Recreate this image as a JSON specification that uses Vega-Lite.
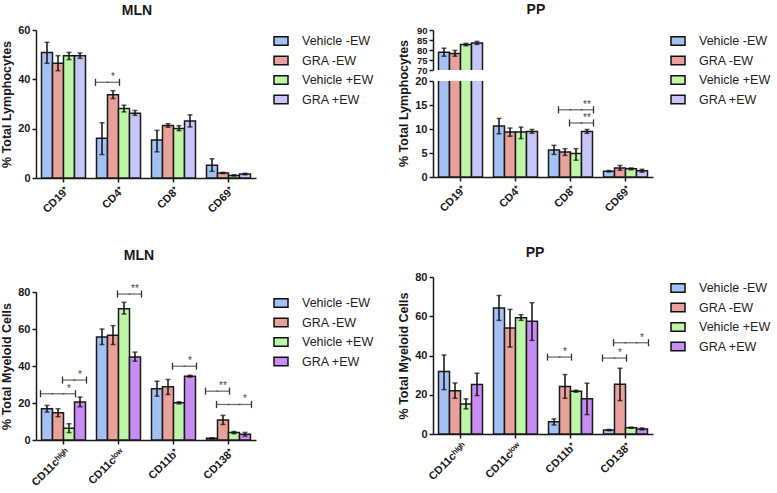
{
"padding": {"left": 0, "top": 3, "right": 0, "bottom": 0},
"datasets": {
"bars": [
{"p":"TL","m":"CD19⁺","c":"Vehicle -EW","v":50.9,"lo":46.5,"hi":55.0},
{"p":"TL","m":"CD19⁺","c":"GRA -EW","v":46.5,"lo":43.5,"hi":49.6},
{"p":"TL","m":"CD19⁺","c":"Vehicle +EW","v":49.6,"lo":48.0,"hi":50.9},
{"p":"TL","m":"CD19⁺","c":"GRA +EW","v":49.6,"lo":48.5,"hi":50.7},
{"p":"TL","m":"CD4⁺","c":"Vehicle -EW","v":16.1,"lo":9.5,"hi":22.4},
{"p":"TL","m":"CD4⁺","c":"GRA -EW","v":33.7,"lo":32.2,"hi":35.4},
{"p":"TL","m":"CD4⁺","c":"Vehicle +EW","v":28.2,"lo":26.8,"hi":29.5},
{"p":"TL","m":"CD4⁺","c":"GRA +EW","v":26.3,"lo":25.4,"hi":27.4},
{"p":"TL","m":"CD8⁺","c":"Vehicle -EW","v":15.4,"lo":10.6,"hi":19.3},
{"p":"TL","m":"CD8⁺","c":"GRA -EW","v":21.3,"lo":20.6,"hi":22.0},
{"p":"TL","m":"CD8⁺","c":"Vehicle +EW","v":20.1,"lo":19.2,"hi":21.2},
{"p":"TL","m":"CD8⁺","c":"GRA +EW","v":23.1,"lo":20.7,"hi":25.6},
{"p":"TL","m":"CD69⁺","c":"Vehicle -EW","v":5.2,"lo":2.7,"hi":7.8},
{"p":"TL","m":"CD69⁺","c":"GRA -EW","v":2.0,"lo":1.8,"hi":2.3},
{"p":"TL","m":"CD69⁺","c":"Vehicle +EW","v":1.0,"lo":0.8,"hi":1.3},
{"p":"TL","m":"CD69⁺","c":"GRA +EW","v":1.6,"lo":1.3,"hi":1.9},
{"p":"TR","m":"CD19⁺","c":"Vehicle -EW","v":78.9,"lo":76.9,"hi":80.9},
{"p":"TR","m":"CD19⁺","c":"GRA -EW","v":78.3,"lo":76.9,"hi":79.8},
{"p":"TR","m":"CD19⁺","c":"Vehicle +EW","v":82.7,"lo":82.1,"hi":83.3},
{"p":"TR","m":"CD19⁺","c":"GRA +EW","v":83.5,"lo":82.8,"hi":84.3},
{"p":"TR","m":"CD4⁺","c":"Vehicle -EW","v":10.6,"lo":9.0,"hi":12.2},
{"p":"TR","m":"CD4⁺","c":"GRA -EW","v":9.4,"lo":8.5,"hi":10.2},
{"p":"TR","m":"CD4⁺","c":"Vehicle +EW","v":9.4,"lo":8.0,"hi":10.4},
{"p":"TR","m":"CD4⁺","c":"GRA +EW","v":9.5,"lo":9.1,"hi":9.9},
{"p":"TR","m":"CD8⁺","c":"Vehicle -EW","v":5.6,"lo":4.7,"hi":6.6},
{"p":"TR","m":"CD8⁺","c":"GRA -EW","v":5.2,"lo":4.5,"hi":5.9},
{"p":"TR","m":"CD8⁺","c":"Vehicle +EW","v":4.9,"lo":3.5,"hi":5.9},
{"p":"TR","m":"CD8⁺","c":"GRA +EW","v":9.5,"lo":9.1,"hi":9.9},
{"p":"TR","m":"CD69⁺","c":"Vehicle -EW","v":1.2,"lo":1.05,"hi":1.35},
{"p":"TR","m":"CD69⁺","c":"GRA -EW","v":1.9,"lo":1.4,"hi":2.4},
{"p":"TR","m":"CD69⁺","c":"Vehicle +EW","v":1.7,"lo":1.5,"hi":1.9},
{"p":"TR","m":"CD69⁺","c":"GRA +EW","v":1.3,"lo":1.0,"hi":1.6},
{"p":"BL","m":"CD11cʰⁱᵍʰ","c":"Vehicle -EW","v":16.9,"lo":15.1,"hi":18.7},
{"p":"BL","m":"CD11cʰⁱᵍʰ","c":"GRA -EW","v":14.7,"lo":12.6,"hi":16.9},
{"p":"BL","m":"CD11cʰⁱᵍʰ","c":"Vehicle +EW","v":6.3,"lo":4.0,"hi":8.8},
{"p":"BL","m":"CD11cʰⁱᵍʰ","c":"GRA +EW","v":20.5,"lo":18.0,"hi":23.2},
{"p":"BL","m":"CD11cˡᵒʷ","c":"Vehicle -EW","v":55.7,"lo":51.6,"hi":60.0},
{"p":"BL","m":"CD11cˡᵒʷ","c":"GRA -EW","v":56.6,"lo":51.6,"hi":61.8},
{"p":"BL","m":"CD11cˡᵒʷ","c":"Vehicle +EW","v":71.0,"lo":68.1,"hi":74.4},
{"p":"BL","m":"CD11cˡᵒʷ","c":"GRA +EW","v":44.9,"lo":42.6,"hi":47.5},
{"p":"BL","m":"CD11b⁺","c":"Vehicle -EW","v":27.7,"lo":23.7,"hi":31.8},
{"p":"BL","m":"CD11b⁺","c":"GRA -EW","v":28.8,"lo":24.6,"hi":32.7},
{"p":"BL","m":"CD11b⁺","c":"Vehicle +EW","v":20.1,"lo":19.5,"hi":20.7},
{"p":"BL","m":"CD11b⁺","c":"GRA +EW","v":34.5,"lo":34.0,"hi":35.0},
{"p":"BL","m":"CD138⁺","c":"Vehicle -EW","v":0.9,"lo":0.6,"hi":1.2},
{"p":"BL","m":"CD138⁺","c":"GRA -EW","v":10.8,"lo":8.4,"hi":13.3},
{"p":"BL","m":"CD138⁺","c":"Vehicle +EW","v":4.0,"lo":3.4,"hi":4.6},
{"p":"BL","m":"CD138⁺","c":"GRA +EW","v":3.1,"lo":2.1,"hi":4.1},
{"p":"BR","m":"CD11cʰⁱᵍʰ","c":"Vehicle -EW","v":31.8,"lo":22.6,"hi":40.3},
{"p":"BR","m":"CD11cʰⁱᵍʰ","c":"GRA -EW","v":22.1,"lo":18.2,"hi":26.0},
{"p":"BR","m":"CD11cʰⁱᵍʰ","c":"Vehicle +EW","v":15.3,"lo":12.8,"hi":17.9},
{"p":"BR","m":"CD11cʰⁱᵍʰ","c":"GRA +EW","v":25.2,"lo":19.6,"hi":31.0},
{"p":"BR","m":"CD11cˡᵒʷ","c":"Vehicle -EW","v":64.2,"lo":57.9,"hi":70.6},
{"p":"BR","m":"CD11cˡᵒʷ","c":"GRA -EW","v":54.0,"lo":44.3,"hi":63.5},
{"p":"BR","m":"CD11cˡᵒʷ","c":"Vehicle +EW","v":59.2,"lo":57.9,"hi":60.8},
{"p":"BR","m":"CD11cˡᵒʷ","c":"GRA +EW","v":57.5,"lo":47.7,"hi":66.9},
{"p":"BR","m":"CD11b⁺","c":"Vehicle -EW","v":6.3,"lo":4.6,"hi":7.7},
{"p":"BR","m":"CD11b⁺","c":"GRA -EW","v":24.2,"lo":18.2,"hi":30.3},
{"p":"BR","m":"CD11b⁺","c":"Vehicle +EW","v":21.8,"lo":21.3,"hi":22.3},
{"p":"BR","m":"CD11b⁺","c":"GRA +EW","v":17.9,"lo":9.9,"hi":25.9},
{"p":"BR","m":"CD138⁺","c":"Vehicle -EW","v":2.0,"lo":1.7,"hi":2.3},
{"p":"BR","m":"CD138⁺","c":"GRA -EW","v":25.4,"lo":17.0,"hi":33.5},
{"p":"BR","m":"CD138⁺","c":"Vehicle +EW","v":3.2,"lo":2.9,"hi":3.5},
{"p":"BR","m":"CD138⁺","c":"GRA +EW","v":2.6,"lo":2.1,"hi":3.1}
],
"brk": [
{"p":"TL","m":"CD4⁺","from":"Vehicle -EW","to":"GRA -EW","level":38.8,"label":"*"},
{"p":"TR","m":"CD8⁺","from":"GRA -EW","to":"GRA +EW","level":14.0,"label":"**"},
{"p":"TR","m":"CD8⁺","from":"Vehicle +EW","to":"GRA +EW","level":11.25,"label":"**"},
{"p":"BL","m":"CD11cʰⁱᵍʰ","from":"Vehicle -EW","to":"Vehicle +EW","level":25.0,"label":"*"},
{"p":"BL","m":"CD11cʰⁱᵍʰ","from":"Vehicle +EW","to":"GRA +EW","level":32.4,"label":"*"},
{"p":"BL","m":"CD11cˡᵒʷ","from":"Vehicle +EW","to":"GRA +EW","level":78.9,"label":"**"},
{"p":"BL","m":"CD11b⁺","from":"Vehicle +EW","to":"GRA +EW","level":39.9,"label":"*"},
{"p":"BL","m":"CD138⁺","from":"Vehicle -EW","to":"GRA -EW","level":26.4,"label":"**"},
{"p":"BL","m":"CD138⁺","from":"GRA -EW","to":"GRA +EW","level":19.2,"label":"*"},
{"p":"BR","m":"CD11b⁺","from":"Vehicle -EW","to":"GRA -EW","level":39.2,"label":"*"},
{"p":"BR","m":"CD138⁺","from":"Vehicle -EW","to":"GRA -EW","level":38.7,"label":"*"},
{"p":"BR","m":"CD138⁺","from":"GRA -EW","to":"GRA +EW","level":46.5,"label":"*"}
],
"seg": [
{"p":"TL","m":"CD4⁺","c":"Vehicle -EW","level":38.8},
{"p":"TL","m":"CD4⁺","c":"GRA -EW","level":38.8},
{"p":"TR","m":"CD8⁺","c":"GRA -EW","level":14.0},
{"p":"TR","m":"CD8⁺","c":"Vehicle +EW","level":14.0},
{"p":"TR","m":"CD8⁺","c":"GRA +EW","level":14.0},
{"p":"TR","m":"CD8⁺","c":"Vehicle +EW","level":11.25},
{"p":"TR","m":"CD8⁺","c":"GRA +EW","level":11.25},
{"p":"BL","m":"CD11cʰⁱᵍʰ","c":"Vehicle -EW","level":25.0},
{"p":"BL","m":"CD11cʰⁱᵍʰ","c":"GRA -EW","level":25.0},
{"p":"BL","m":"CD11cʰⁱᵍʰ","c":"Vehicle +EW","level":25.0},
{"p":"BL","m":"CD11cʰⁱᵍʰ","c":"Vehicle +EW","level":32.4},
{"p":"BL","m":"CD11cʰⁱᵍʰ","c":"GRA +EW","level":32.4},
{"p":"BL","m":"CD11cˡᵒʷ","c":"Vehicle +EW","level":78.9},
{"p":"BL","m":"CD11cˡᵒʷ","c":"GRA +EW","level":78.9},
{"p":"BL","m":"CD11b⁺","c":"Vehicle +EW","level":39.9},
{"p":"BL","m":"CD11b⁺","c":"GRA +EW","level":39.9},
{"p":"BL","m":"CD138⁺","c":"Vehicle -EW","level":26.4},
{"p":"BL","m":"CD138⁺","c":"GRA -EW","level":26.4},
{"p":"BL","m":"CD138⁺","c":"GRA -EW","level":19.2},
{"p":"BL","m":"CD138⁺","c":"Vehicle +EW","level":19.2},
{"p":"BL","m":"CD138⁺","c":"GRA +EW","level":19.2},
{"p":"BR","m":"CD11b⁺","c":"Vehicle -EW","level":39.2},
{"p":"BR","m":"CD11b⁺","c":"GRA -EW","level":39.2},
{"p":"BR","m":"CD138⁺","c":"Vehicle -EW","level":38.7},
{"p":"BR","m":"CD138⁺","c":"GRA -EW","level":38.7},
{"p":"BR","m":"CD138⁺","c":"GRA -EW","level":46.5},
{"p":"BR","m":"CD138⁺","c":"Vehicle +EW","level":46.5},
{"p":"BR","m":"CD138⁺","c":"GRA +EW","level":46.5}
]
},
"hconcat": [
{
"vconcat": [
{
"title": {"text": "MLN", "dx": -9, "offset": 6},
"width": 220, "height": 148,
"layer": [
{"data": {"name": "bars"}, "transform": [{"filter": "datum.p === 'TL'"}],
 "mark": {"type": "bar", "stroke": "#1a1a1a", "strokeWidth": 1.5},
 "encoding": {
  "x": {"field": "m", "type": "nominal", "title": null, "scale": {"domain": ["CD19⁺","CD4⁺","CD8⁺","CD69⁺"], "paddingInner": 0.2, "paddingOuter": 0.1}},
  "xOffset": {"field": "c", "type": "nominal", "scale": {"domain": ["Vehicle -EW","GRA -EW","Vehicle +EW","GRA +EW"], "paddingInner": 0, "paddingOuter": 0}},
  "y": {"field": "v", "type": "quantitative", "title": "% Total Lymphocytes", "scale": {"domain": [0, 60]}, "axis": {"values": [0, 20, 40, 60], "labelOverlap": false}},
  "color": {"field": "c", "type": "nominal", "scale": {"domain": ["Vehicle -EW","GRA -EW","Vehicle +EW","GRA +EW"], "range": ["#a3c1f2","#e9a19c","#bff5a8","#c6c6f8"]}, "legend": {"title": null}}
 }},
{"data": {"name": "bars"}, "transform": [{"filter": "datum.p === 'TL'"}],
 "mark": {"type": "rule", "color": "#111", "strokeWidth": 1.5},
 "encoding": {
  "x": {"field": "m", "type": "nominal", "title": null},
  "xOffset": {"field": "c", "type": "nominal"},
  "y": {"field": "lo", "type": "quantitative", "title": "% Total Lymphocytes", "scale": {"domain": [0, 60]}, "axis": {"values": [0, 20, 40, 60], "labelOverlap": false}},
  "y2": {"field": "hi"}
 }},
{"data": {"name": "bars"}, "transform": [{"filter": "datum.p === 'TL'"}],
 "mark": {"type": "tick", "color": "#111", "size": 5, "thickness": 1.5, "orient": "horizontal"},
 "encoding": {
  "x": {"field": "m", "type": "nominal", "title": null},
  "xOffset": {"field": "c", "type": "nominal"},
  "y": {"field": "lo", "type": "quantitative", "title": "% Total Lymphocytes", "scale": {"domain": [0, 60]}, "axis": {"values": [0, 20, 40, 60], "labelOverlap": false}}
 }},
{"data": {"name": "bars"}, "transform": [{"filter": "datum.p === 'TL'"}],
 "mark": {"type": "tick", "color": "#111", "size": 5, "thickness": 1.5, "orient": "horizontal"},
 "encoding": {
  "x": {"field": "m", "type": "nominal", "title": null},
  "xOffset": {"field": "c", "type": "nominal"},
  "y": {"field": "hi", "type": "quantitative", "title": "% Total Lymphocytes", "scale": {"domain": [0, 60]}, "axis": {"values": [0, 20, 40, 60], "labelOverlap": false}}
 }},
{"data": {"name": "seg"}, "transform": [{"filter": "datum.p === 'TL'"}],
 "mark": {"type": "tick", "color": "#333", "size": 13, "thickness": 1.3, "orient": "horizontal"},
 "encoding": {
  "x": {"field": "m", "type": "nominal", "title": null},
  "xOffset": {"field": "c", "type": "nominal"},
  "y": {"field": "level", "type": "quantitative", "title": "% Total Lymphocytes", "scale": {"domain": [0, 60]}, "axis": {"values": [0, 20, 40, 60], "labelOverlap": false}}
 }},
{"data": {"name": "brk"}, "transform": [{"filter": "datum.p === 'TL'"}],
 "mark": {"type": "point", "shape": "M-1,-0.55L-1,0.55", "size": 169, "filled": false, "stroke": "#333", "strokeWidth": 1.3, "opacity": 1},
 "encoding": {
  "x": {"field": "m", "type": "nominal", "title": null},
  "xOffset": {"field": "from", "type": "nominal"},
  "y": {"field": "level", "type": "quantitative", "title": "% Total Lymphocytes", "scale": {"domain": [0, 60]}, "axis": {"values": [0, 20, 40, 60], "labelOverlap": false}}
 }},
{"data": {"name": "brk"}, "transform": [{"filter": "datum.p === 'TL'"}],
 "mark": {"type": "point", "shape": "M1,-0.55L1,0.55", "size": 169, "filled": false, "stroke": "#333", "strokeWidth": 1.3, "opacity": 1},
 "encoding": {
  "x": {"field": "m", "type": "nominal", "title": null},
  "xOffset": {"field": "to", "type": "nominal"},
  "y": {"field": "level", "type": "quantitative", "title": "% Total Lymphocytes", "scale": {"domain": [0, 60]}, "axis": {"values": [0, 20, 40, 60], "labelOverlap": false}}
 }},
{"data": {"name": "brk"}, "transform": [{"filter": "datum.p === 'TL'"}],
 "mark": {"type": "text", "fontSize": 10, "fill": "#444", "baseline": "alphabetic", "dy": -2, "font": "Liberation Sans"},
 "encoding": {
  "x": {"field": "m", "type": "nominal", "title": null},
  "xOffset": {"field": "to", "type": "nominal"},
  "y": {"field": "level", "type": "quantitative", "title": "% Total Lymphocytes", "scale": {"domain": [0, 60]}, "axis": {"values": [0, 20, 40, 60], "labelOverlap": false}},
  "text": {"field": "label"}
 }}
]
},
{
"title": {"text": "MLN", "dx": -7, "offset": 21},
"width": 220, "height": 148,
"layer": [
{"data": {"name": "bars"}, "transform": [{"filter": "datum.p === 'BL'"}],
 "mark": {"type": "bar", "stroke": "#1a1a1a", "strokeWidth": 1.5},
 "encoding": {
  "x": {"field": "m", "type": "nominal", "title": null, "scale": {"domain": ["CD11cʰⁱᵍʰ","CD11cˡᵒʷ","CD11b⁺","CD138⁺"], "paddingInner": 0.2, "paddingOuter": 0.1}},
  "xOffset": {"field": "c", "type": "nominal", "scale": {"domain": ["Vehicle -EW","GRA -EW","Vehicle +EW","GRA +EW"], "paddingInner": 0, "paddingOuter": 0}},
  "y": {"field": "v", "type": "quantitative", "title": "% Total Myeloid Cells", "scale": {"domain": [0, 80]}, "axis": {"values": [0, 20, 40, 60, 80], "labelOverlap": false}},
  "color": {"field": "c", "type": "nominal", "scale": {"domain": ["Vehicle -EW","GRA -EW","Vehicle +EW","GRA +EW"], "range": ["#a3c1f2","#e9a19c","#bff5a8","#c78df2"]}, "legend": {"title": null}}
 }},
{"data": {"name": "bars"}, "transform": [{"filter": "datum.p === 'BL'"}],
 "mark": {"type": "rule", "color": "#111", "strokeWidth": 1.5},
 "encoding": {
  "x": {"field": "m", "type": "nominal", "title": null},
  "xOffset": {"field": "c", "type": "nominal"},
  "y": {"field": "lo", "type": "quantitative", "title": "% Total Myeloid Cells", "scale": {"domain": [0, 80]}, "axis": {"values": [0, 20, 40, 60, 80], "labelOverlap": false}},
  "y2": {"field": "hi"}
 }},
{"data": {"name": "bars"}, "transform": [{"filter": "datum.p === 'BL'"}],
 "mark": {"type": "tick", "color": "#111", "size": 5, "thickness": 1.5, "orient": "horizontal"},
 "encoding": {
  "x": {"field": "m", "type": "nominal", "title": null},
  "xOffset": {"field": "c", "type": "nominal"},
  "y": {"field": "lo", "type": "quantitative", "title": "% Total Myeloid Cells", "scale": {"domain": [0, 80]}, "axis": {"values": [0, 20, 40, 60, 80], "labelOverlap": false}}
 }},
{"data": {"name": "bars"}, "transform": [{"filter": "datum.p === 'BL'"}],
 "mark": {"type": "tick", "color": "#111", "size": 5, "thickness": 1.5, "orient": "horizontal"},
 "encoding": {
  "x": {"field": "m", "type": "nominal", "title": null},
  "xOffset": {"field": "c", "type": "nominal"},
  "y": {"field": "hi", "type": "quantitative", "title": "% Total Myeloid Cells", "scale": {"domain": [0, 80]}, "axis": {"values": [0, 20, 40, 60, 80], "labelOverlap": false}}
 }},
{"data": {"name": "seg"}, "transform": [{"filter": "datum.p === 'BL'"}],
 "mark": {"type": "tick", "color": "#333", "size": 13, "thickness": 1.3, "orient": "horizontal"},
 "encoding": {
  "x": {"field": "m", "type": "nominal", "title": null},
  "xOffset": {"field": "c", "type": "nominal"},
  "y": {"field": "level", "type": "quantitative", "title": "% Total Myeloid Cells", "scale": {"domain": [0, 80]}, "axis": {"values": [0, 20, 40, 60, 80], "labelOverlap": false}}
 }},
{"data": {"name": "brk"}, "transform": [{"filter": "datum.p === 'BL'"}],
 "mark": {"type": "point", "shape": "M-1,-0.55L-1,0.55", "size": 169, "filled": false, "stroke": "#333", "strokeWidth": 1.3, "opacity": 1},
 "encoding": {
  "x": {"field": "m", "type": "nominal", "title": null},
  "xOffset": {"field": "from", "type": "nominal"},
  "y": {"field": "level", "type": "quantitative", "title": "% Total Myeloid Cells", "scale": {"domain": [0, 80]}, "axis": {"values": [0, 20, 40, 60, 80], "labelOverlap": false}}
 }},
{"data": {"name": "brk"}, "transform": [{"filter": "datum.p === 'BL'"}],
 "mark": {"type": "point", "shape": "M1,-0.55L1,0.55", "size": 169, "filled": false, "stroke": "#333", "strokeWidth": 1.3, "opacity": 1},
 "encoding": {
  "x": {"field": "m", "type": "nominal", "title": null},
  "xOffset": {"field": "to", "type": "nominal"},
  "y": {"field": "level", "type": "quantitative", "title": "% Total Myeloid Cells", "scale": {"domain": [0, 80]}, "axis": {"values": [0, 20, 40, 60, 80], "labelOverlap": false}}
 }},
{"data": {"name": "brk"}, "transform": [{"filter": "datum.p === 'BL'"}],
 "mark": {"type": "text", "fontSize": 10, "fill": "#444", "baseline": "alphabetic", "dy": -2, "font": "Liberation Sans"},
 "encoding": {
  "x": {"field": "m", "type": "nominal", "title": null},
  "xOffset": {"field": "to", "type": "nominal"},
  "y": {"field": "level", "type": "quantitative", "title": "% Total Myeloid Cells", "scale": {"domain": [0, 80]}, "axis": {"values": [0, 20, 40, 60, 80], "labelOverlap": false}},
  "text": {"field": "label"}
 }}
]
}
],
"spacing": 34,
"resolve": {"scale": {"color": "independent", "xOffset": "independent"}, "legend": {"color": "independent"}}
},
{
"vconcat": [
{
"title": {"text": "PP", "dx": -50, "offset": 8},
"bounds": "flush",
"spacing": 11,
"resolve": {"scale": {"xOffset": "independent"}},
"vconcat": [
{
"width": 220, "height": 40,
"layer": [
{"data": {"name": "bars"}, "transform": [{"filter": "datum.p === 'TR'"}],
 "mark": {"type": "bar", "stroke": "#1a1a1a", "strokeWidth": 1.5, "clip": true},
 "encoding": {
  "x": {"field": "m", "type": "nominal", "axis": null, "scale": {"domain": ["CD19⁺","CD4⁺","CD8⁺","CD69⁺"], "paddingInner": 0.2, "paddingOuter": 0.1}},
  "xOffset": {"field": "c", "type": "nominal", "scale": {"domain": ["Vehicle -EW","GRA -EW","Vehicle +EW","GRA +EW"], "paddingInner": 0, "paddingOuter": 0}},
  "y": {"field": "v", "type": "quantitative", "title": null, "scale": {"domain": [70, 90]}, "axis": {"values": [70, 75, 80, 85, 90], "labelOverlap": false, "labelFontSize": 9.5}},
  "color": {"field": "c", "type": "nominal", "scale": {"domain": ["Vehicle -EW","GRA -EW","Vehicle +EW","GRA +EW"], "range": ["#a3c1f2","#e9a19c","#bff5a8","#c6c6f8"]}, "legend": {"title": null}}
 }},
{"data": {"name": "bars"}, "transform": [{"filter": "datum.p === 'TR'"}],
 "mark": {"type": "rule", "color": "#111", "strokeWidth": 1.5, "clip": true},
 "encoding": {
  "x": {"field": "m", "type": "nominal", "axis": null},
  "xOffset": {"field": "c", "type": "nominal"},
  "y": {"field": "lo", "type": "quantitative", "title": null, "scale": {"domain": [70, 90]}, "axis": {"values": [70, 75, 80, 85, 90], "labelOverlap": false, "labelFontSize": 9.5}},
  "y2": {"field": "hi"}
 }},
{"data": {"name": "bars"}, "transform": [{"filter": "datum.p === 'TR'"}],
 "mark": {"type": "tick", "color": "#111", "size": 5, "thickness": 1.5, "orient": "horizontal", "clip": true},
 "encoding": {
  "x": {"field": "m", "type": "nominal", "axis": null},
  "xOffset": {"field": "c", "type": "nominal"},
  "y": {"field": "lo", "type": "quantitative", "title": null, "scale": {"domain": [70, 90]}, "axis": {"values": [70, 75, 80, 85, 90], "labelOverlap": false, "labelFontSize": 9.5}}
 }},
{"data": {"name": "bars"}, "transform": [{"filter": "datum.p === 'TR'"}],
 "mark": {"type": "tick", "color": "#111", "size": 5, "thickness": 1.5, "orient": "horizontal", "clip": true},
 "encoding": {
  "x": {"field": "m", "type": "nominal", "axis": null},
  "xOffset": {"field": "c", "type": "nominal"},
  "y": {"field": "hi", "type": "quantitative", "title": null, "scale": {"domain": [70, 90]}, "axis": {"values": [70, 75, 80, 85, 90], "labelOverlap": false, "labelFontSize": 9.5}}
 }}
]
},
{
"width": 220, "height": 96,
"layer": [
{"data": {"name": "bars"}, "transform": [{"filter": "datum.p === 'TR'"}],
 "mark": {"type": "bar", "stroke": "#1a1a1a", "strokeWidth": 1.5, "clip": true},
 "encoding": {
  "x": {"field": "m", "type": "nominal", "title": null, "scale": {"domain": ["CD19⁺","CD4⁺","CD8⁺","CD69⁺"], "paddingInner": 0.2, "paddingOuter": 0.1}},
  "xOffset": {"field": "c", "type": "nominal", "scale": {"domain": ["Vehicle -EW","GRA -EW","Vehicle +EW","GRA +EW"], "paddingInner": 0, "paddingOuter": 0}},
  "y": {"field": "v", "type": "quantitative", "title": "% Total Lymphocytes", "scale": {"domain": [0, 20]}, "axis": {"values": [0, 5, 10, 15, 20], "labelOverlap": false, "titleY": 22}},
  "color": {"field": "c", "type": "nominal", "scale": {"domain": ["Vehicle -EW","GRA -EW","Vehicle +EW","GRA +EW"], "range": ["#a3c1f2","#e9a19c","#bff5a8","#c6c6f8"]}, "legend": {"title": null}}
 }},
{"data": {"name": "bars"}, "transform": [{"filter": "datum.p === 'TR'"}],
 "mark": {"type": "rule", "color": "#111", "strokeWidth": 1.5, "clip": true},
 "encoding": {
  "x": {"field": "m", "type": "nominal", "title": null},
  "xOffset": {"field": "c", "type": "nominal"},
  "y": {"field": "lo", "type": "quantitative", "title": "% Total Lymphocytes", "scale": {"domain": [0, 20]}, "axis": {"values": [0, 5, 10, 15, 20], "labelOverlap": false, "titleY": 22}},
  "y2": {"field": "hi"}
 }},
{"data": {"name": "bars"}, "transform": [{"filter": "datum.p === 'TR'"}],
 "mark": {"type": "tick", "color": "#111", "size": 5, "thickness": 1.5, "orient": "horizontal", "clip": true},
 "encoding": {
  "x": {"field": "m", "type": "nominal", "title": null},
  "xOffset": {"field": "c", "type": "nominal"},
  "y": {"field": "lo", "type": "quantitative", "title": "% Total Lymphocytes", "scale": {"domain": [0, 20]}, "axis": {"values": [0, 5, 10, 15, 20], "labelOverlap": false, "titleY": 22}}
 }},
{"data": {"name": "bars"}, "transform": [{"filter": "datum.p === 'TR'"}],
 "mark": {"type": "tick", "color": "#111", "size": 5, "thickness": 1.5, "orient": "horizontal", "clip": true},
 "encoding": {
  "x": {"field": "m", "type": "nominal", "title": null},
  "xOffset": {"field": "c", "type": "nominal"},
  "y": {"field": "hi", "type": "quantitative", "title": "% Total Lymphocytes", "scale": {"domain": [0, 20]}, "axis": {"values": [0, 5, 10, 15, 20], "labelOverlap": false, "titleY": 22}}
 }},
{"data": {"name": "seg"}, "transform": [{"filter": "datum.p === 'TR'"}],
 "mark": {"type": "tick", "color": "#333", "size": 13, "thickness": 1.3, "orient": "horizontal"},
 "encoding": {
  "x": {"field": "m", "type": "nominal", "title": null},
  "xOffset": {"field": "c", "type": "nominal"},
  "y": {"field": "level", "type": "quantitative", "title": "% Total Lymphocytes", "scale": {"domain": [0, 20]}, "axis": {"values": [0, 5, 10, 15, 20], "labelOverlap": false, "titleY": 22}}
 }},
{"data": {"name": "brk"}, "transform": [{"filter": "datum.p === 'TR'"}],
 "mark": {"type": "point", "shape": "M-1,-0.55L-1,0.55", "size": 169, "filled": false, "stroke": "#333", "strokeWidth": 1.3, "opacity": 1},
 "encoding": {
  "x": {"field": "m", "type": "nominal", "title": null},
  "xOffset": {"field": "from", "type": "nominal"},
  "y": {"field": "level", "type": "quantitative", "title": "% Total Lymphocytes", "scale": {"domain": [0, 20]}, "axis": {"values": [0, 5, 10, 15, 20], "labelOverlap": false, "titleY": 22}}
 }},
{"data": {"name": "brk"}, "transform": [{"filter": "datum.p === 'TR'"}],
 "mark": {"type": "point", "shape": "M1,-0.55L1,0.55", "size": 169, "filled": false, "stroke": "#333", "strokeWidth": 1.3, "opacity": 1},
 "encoding": {
  "x": {"field": "m", "type": "nominal", "title": null},
  "xOffset": {"field": "to", "type": "nominal"},
  "y": {"field": "level", "type": "quantitative", "title": "% Total Lymphocytes", "scale": {"domain": [0, 20]}, "axis": {"values": [0, 5, 10, 15, 20], "labelOverlap": false, "titleY": 22}}
 }},
{"data": {"name": "brk"}, "transform": [{"filter": "datum.p === 'TR'"}],
 "mark": {"type": "text", "fontSize": 10, "fill": "#444", "baseline": "alphabetic", "dy": -2, "font": "Liberation Sans"},
 "encoding": {
  "x": {"field": "m", "type": "nominal", "title": null},
  "xOffset": {"field": "to", "type": "nominal"},
  "y": {"field": "level", "type": "quantitative", "title": "% Total Lymphocytes", "scale": {"domain": [0, 20]}, "axis": {"values": [0, 5, 10, 15, 20], "labelOverlap": false, "titleY": 22}},
  "text": {"field": "label"}
 }}
]
}
]
},
{
"title": {"text": "PP", "dx": -8, "offset": 11},
"width": 220, "height": 157,
"layer": [
{"data": {"name": "bars"}, "transform": [{"filter": "datum.p === 'BR'"}],
 "mark": {"type": "bar", "stroke": "#1a1a1a", "strokeWidth": 1.5},
 "encoding": {
  "x": {"field": "m", "type": "nominal", "title": null, "scale": {"domain": ["CD11cʰⁱᵍʰ","CD11cˡᵒʷ","CD11b⁺","CD138⁺"], "paddingInner": 0.2, "paddingOuter": 0.1}},
  "xOffset": {"field": "c", "type": "nominal", "scale": {"domain": ["Vehicle -EW","GRA -EW","Vehicle +EW","GRA +EW"], "paddingInner": 0, "paddingOuter": 0}},
  "y": {"field": "v", "type": "quantitative", "title": "% Total Myeloid Cells", "scale": {"domain": [0, 80]}, "axis": {"values": [0, 20, 40, 60, 80], "labelOverlap": false}},
  "color": {"field": "c", "type": "nominal", "scale": {"domain": ["Vehicle -EW","GRA -EW","Vehicle +EW","GRA +EW"], "range": ["#a3c1f2","#e9a19c","#bff5a8","#c78df2"]}, "legend": {"title": null}}
 }},
{"data": {"name": "bars"}, "transform": [{"filter": "datum.p === 'BR'"}],
 "mark": {"type": "rule", "color": "#111", "strokeWidth": 1.5},
 "encoding": {
  "x": {"field": "m", "type": "nominal", "title": null},
  "xOffset": {"field": "c", "type": "nominal"},
  "y": {"field": "lo", "type": "quantitative", "title": "% Total Myeloid Cells", "scale": {"domain": [0, 80]}, "axis": {"values": [0, 20, 40, 60, 80], "labelOverlap": false}},
  "y2": {"field": "hi"}
 }},
{"data": {"name": "bars"}, "transform": [{"filter": "datum.p === 'BR'"}],
 "mark": {"type": "tick", "color": "#111", "size": 5, "thickness": 1.5, "orient": "horizontal"},
 "encoding": {
  "x": {"field": "m", "type": "nominal", "title": null},
  "xOffset": {"field": "c", "type": "nominal"},
  "y": {"field": "lo", "type": "quantitative", "title": "% Total Myeloid Cells", "scale": {"domain": [0, 80]}, "axis": {"values": [0, 20, 40, 60, 80], "labelOverlap": false}}
 }},
{"data": {"name": "bars"}, "transform": [{"filter": "datum.p === 'BR'"}],
 "mark": {"type": "tick", "color": "#111", "size": 5, "thickness": 1.5, "orient": "horizontal"},
 "encoding": {
  "x": {"field": "m", "type": "nominal", "title": null},
  "xOffset": {"field": "c", "type": "nominal"},
  "y": {"field": "hi", "type": "quantitative", "title": "% Total Myeloid Cells", "scale": {"domain": [0, 80]}, "axis": {"values": [0, 20, 40, 60, 80], "labelOverlap": false}}
 }},
{"data": {"name": "seg"}, "transform": [{"filter": "datum.p === 'BR'"}],
 "mark": {"type": "tick", "color": "#333", "size": 13, "thickness": 1.3, "orient": "horizontal"},
 "encoding": {
  "x": {"field": "m", "type": "nominal", "title": null},
  "xOffset": {"field": "c", "type": "nominal"},
  "y": {"field": "level", "type": "quantitative", "title": "% Total Myeloid Cells", "scale": {"domain": [0, 80]}, "axis": {"values": [0, 20, 40, 60, 80], "labelOverlap": false}}
 }},
{"data": {"name": "brk"}, "transform": [{"filter": "datum.p === 'BR'"}],
 "mark": {"type": "point", "shape": "M-1,-0.55L-1,0.55", "size": 169, "filled": false, "stroke": "#333", "strokeWidth": 1.3, "opacity": 1},
 "encoding": {
  "x": {"field": "m", "type": "nominal", "title": null},
  "xOffset": {"field": "from", "type": "nominal"},
  "y": {"field": "level", "type": "quantitative", "title": "% Total Myeloid Cells", "scale": {"domain": [0, 80]}, "axis": {"values": [0, 20, 40, 60, 80], "labelOverlap": false}}
 }},
{"data": {"name": "brk"}, "transform": [{"filter": "datum.p === 'BR'"}],
 "mark": {"type": "point", "shape": "M1,-0.55L1,0.55", "size": 169, "filled": false, "stroke": "#333", "strokeWidth": 1.3, "opacity": 1},
 "encoding": {
  "x": {"field": "m", "type": "nominal", "title": null},
  "xOffset": {"field": "to", "type": "nominal"},
  "y": {"field": "level", "type": "quantitative", "title": "% Total Myeloid Cells", "scale": {"domain": [0, 80]}, "axis": {"values": [0, 20, 40, 60, 80], "labelOverlap": false}}
 }},
{"data": {"name": "brk"}, "transform": [{"filter": "datum.p === 'BR'"}],
 "mark": {"type": "text", "fontSize": 10, "fill": "#444", "baseline": "alphabetic", "dy": -2, "font": "Liberation Sans"},
 "encoding": {
  "x": {"field": "m", "type": "nominal", "title": null},
  "xOffset": {"field": "to", "type": "nominal"},
  "y": {"field": "level", "type": "quantitative", "title": "% Total Myeloid Cells", "scale": {"domain": [0, 80]}, "axis": {"values": [0, 20, 40, 60, 80], "labelOverlap": false}},
  "text": {"field": "label"}
 }}
]
}
],
"spacing": 32,
"resolve": {"scale": {"color": "independent", "xOffset": "independent"}, "legend": {"color": "independent"}}
}
],
"spacing": 20,
"resolve": {"scale": {"color": "independent", "xOffset": "independent"}, "legend": {"color": "independent"}},
"config": {
 "font": "Liberation Sans",
 "view": {"stroke": null},
 "axis": {"domainColor": "#1a1a1a", "domainWidth": 1.5, "tickColor": "#1a1a1a", "tickWidth": 1.5, "tickSize": 4, "labelFont": "Liberation Sans", "labelFontWeight": "bold", "labelFontSize": 11, "labelColor": "#1a1a1a", "labelOverlap": false, "titleFont": "Liberation Sans", "titleFontWeight": "bold", "titleFontSize": 12.5, "titleColor": "#1a1a1a", "grid": false},
 "axisX": {"labelAngle": -45, "labelFontSize": 11, "labelPadding": 2},
 "axisY": {"titlePadding": 4, "labelPadding": 2},
 "legend": {"labelFont": "Liberation Sans", "labelFontSize": 12.5, "labelColor": "#222", "symbolType": "M-1,-0.6L1,-0.6L1,0.6L-1,0.6Z", "symbolSize": 196, "symbolStrokeColor": "#111", "symbolStrokeWidth": 1.5, "rowPadding": 3.5, "offset": 14, "padding": 3, "labelOffset": 13},
 "title": {"font": "Liberation Sans", "fontSize": 14, "fontWeight": "bold", "color": "#1a1a1a", "anchor": "middle"}
}
}
